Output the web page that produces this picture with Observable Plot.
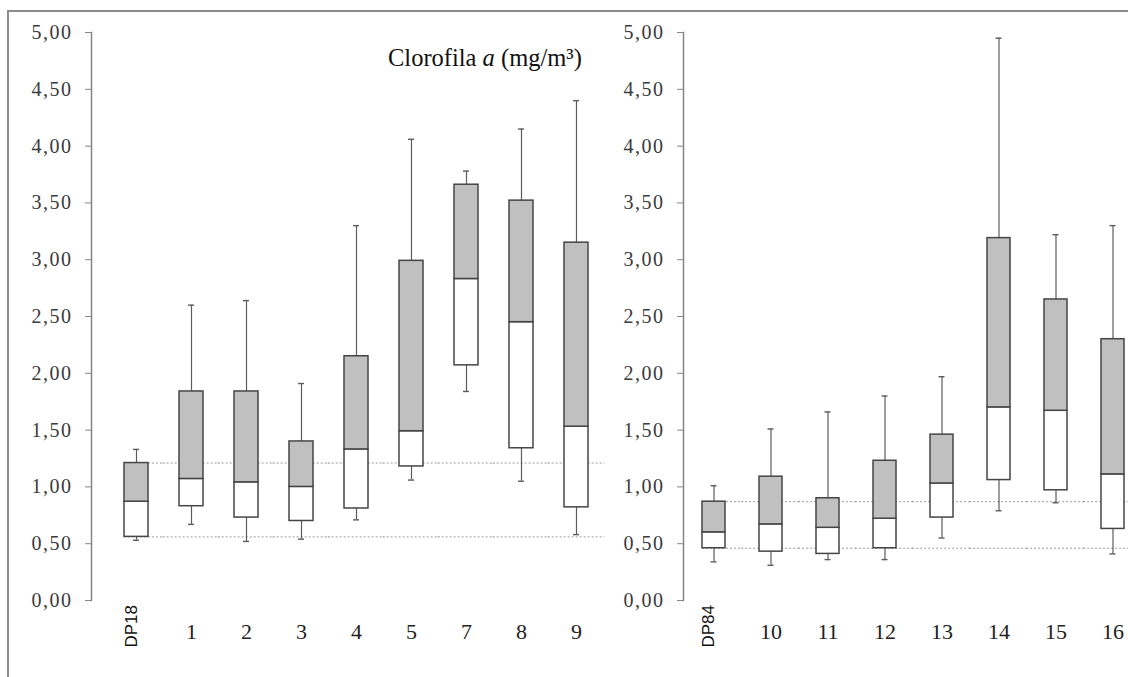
<!DOCTYPE html>
<html>
<head>
<meta charset="utf-8">
<script src="https://cdn.jsdelivr.net/npm/d3@7"></script>
<script src="https://cdn.jsdelivr.net/npm/@observablehq/plot@0.6"></script>
<style>
html, body { margin: 0; padding: 0; background: #fff; overflow: hidden; }
#wrap { position: relative; width: 1128px; height: 677px; overflow: hidden; background: #fff; }
#border { position: absolute; left: 7px; top: 10px; width: 1300px; height: 900px;
  border-top: 2px solid #8c8c8c; border-left: 2px solid #8c8c8c; }
.panel { position: absolute; left: 0; top: 0; }
#title { position: absolute; left: 388px; top: 46px;
  font-family: "Liberation Serif", "Times New Roman", "DejaVu Serif", serif;
  font-size: 24.5px; line-height: 24px; color: #111; white-space: nowrap; }
svg text { font-family: "Liberation Serif", "Times New Roman", "DejaVu Serif", serif; }
svg text[aria-label="ref-label"] { font-family: "Liberation Sans", Arial, "DejaVu Sans", sans-serif; }
g[aria-label="y-axis tick label"] text { letter-spacing: 1.5px; }
</style>
</head>
<body>
<div id="wrap">
  <div id="border"></div>
  <div id="left" class="panel"></div>
  <div id="right" class="panel"></div>
  <div id="title">Clorofila <i>a</i> (mg/m³)</div>
</div>
<script>
// ---- Data (Clorofila a, mg/m³) ----
const leftStations = ["DP18", "1", "2", "3", "4", "5", "7", "8", "9"];
const leftMax    = [1.33, 2.60, 2.64, 1.91, 3.30, 4.06, 3.78, 4.15, 4.40];
const leftQ3     = [1.21, 1.84, 1.84, 1.40, 2.15, 2.99, 3.66, 3.52, 3.15];
const leftMedian = [0.87, 1.07, 1.04, 1.00, 1.33, 1.49, 2.83, 2.45, 1.53];
const leftQ1     = [0.56, 0.83, 0.73, 0.70, 0.81, 1.18, 2.07, 1.34, 0.82];
const leftMin    = [0.53, 0.67, 0.52, 0.54, 0.71, 1.06, 1.84, 1.05, 0.58];

const rightStations = ["DP84", "10", "11", "12", "13", "14", "15", "16"];
const rightMax    = [1.01, 1.51, 1.66, 1.80, 1.97, 4.95, 3.22, 3.30];
const rightQ3     = [0.87, 1.09, 0.90, 1.23, 1.46, 3.19, 2.65, 2.30];
const rightMedian = [0.60, 0.67, 0.64, 0.72, 1.03, 1.70, 1.67, 1.11];
const rightQ1     = [0.46, 0.43, 0.41, 0.46, 0.73, 1.06, 0.97, 0.63];
const rightMin    = [0.34, 0.31, 0.36, 0.36, 0.55, 0.79, 0.86, 0.41];

const yTicks = [0, 0.5, 1, 1.5, 2, 2.5, 3, 3.5, 4, 4.5, 5];

function panel(stations, mins, q1s, meds, q3s, maxs, layout) {
  const rows = stations.map((s, i) => ({
    station: s, min: mins[i], q1: q1s[i], median: meds[i], q3: q3s[i], max: maxs[i]
  }));
  const ref = rows[0];
  const others = stations.slice(1);
  // dotted reference lines at the reference station's quartiles, drawn across every station band
  const refLevels = [ref.q1, ref.q3];
  const refSegOthers = others.flatMap(s => refLevels.map(v => ({station: s, y: v})));
  const refSegRef = refLevels.map(v => ({station: ref.station, y: v}));
  const {m, c0, step, bw} = layout;
  const n = stations.length;
  const pi = 1 - bw / step;
  const po = (c0 - m - bw / 2) / step;
  const end = m + step * (n - pi + 2 * po);
  const width = Math.ceil(end);
  const gap = (step - bw) / 2 + 0.5;
  const dotted = {stroke: "#9a9a9a", strokeWidth: 1, strokeDasharray: "2,2"};
  const capInset = bw / 2 - 3;
  return Plot.plot({
    width,
    height: 677,
    marginLeft: m,
    marginRight: width - end,
    marginTop: 32,
    marginBottom: 77,
    style: "background:transparent;max-width:none;overflow:visible;font-size:20px;color:#333;",
    x: {domain: stations, type: "band", paddingInner: pi, paddingOuter: po, range: [m, end], axis: null},
    y: {domain: [0, 5], axis: null},
    marks: [
      Plot.tickY(refSegRef, {x: "station", y: "y", ...dotted, insetLeft: 0, insetRight: -gap}),
      Plot.tickY(refSegOthers, {x: "station", y: "y", ...dotted, insetLeft: -gap, insetRight: -gap}),
      Plot.ruleX(rows, {x: "station", y1: "min", y2: "max", stroke: "#5c5c5c", strokeWidth: 1.2}),
      Plot.tickY(rows, {x: "station", y: "max", stroke: "#5c5c5c", strokeWidth: 1.4,
        insetLeft: capInset, insetRight: capInset}),
      Plot.tickY(rows, {x: "station", y: "min", stroke: "#5c5c5c", strokeWidth: 1.4,
        insetLeft: capInset, insetRight: capInset}),
      Plot.barY(rows, {x: "station", y1: "q1", y2: "median", fill: "white", stroke: "#454545", strokeWidth: 1.5}),
      Plot.barY(rows, {x: "station", y1: "median", y2: "q3", fill: "#c0c0c0", stroke: "#454545", strokeWidth: 1.5}),
      Plot.frame({anchor: "left", stroke: "#858585", strokeWidth: 1.5}),
      Plot.axisY({ticks: yTicks, tickSize: 6, tickPadding: 13, stroke: "#858585", fill: "#3a3a3a",
        fontSize: 20, tickFormat: d => d.toFixed(2).replace(".", ",")}),
      Plot.text(others, {x: d => d, text: d => d, frameAnchor: "bottom", dy: 38,
        fontSize: 22, fill: "#222"}),
      Plot.text([ref.station], {x: d => d, text: d => d, frameAnchor: "bottom", dy: 47,
        rotate: -90, textAnchor: "start", fontSize: 17, fill: "#111", ariaLabel: () => "ref-label"})
    ]
  });
}

document.getElementById("left").append(
  panel(leftStations, leftMin, leftQ1, leftMedian, leftQ3, leftMax,
    {m: 91, c0: 133, step: 55.7, bw: 24}));
document.getElementById("right").append(
  panel(rightStations, rightMin, rightQ1, rightMedian, rightQ3, rightMax,
    {m: 683, c0: 711, step: 57.6, bw: 23}));
</script>
</body>
</html>
